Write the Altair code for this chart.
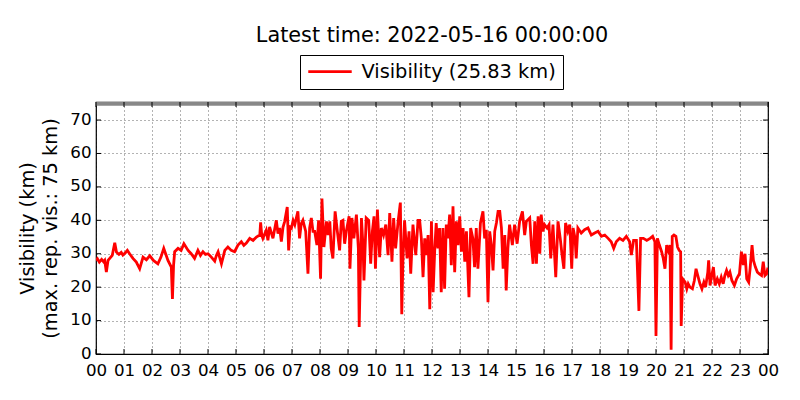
import altair as alt
import pandas as pd

# ---- data (hours since 00:00, visibility km) ----
hours_a = [0.0, 0.05, 0.12, 0.2, 0.27, 0.31, 0.37, 0.43, 0.49, 0.58, 0.67, 0.73, 0.82, 0.9, 0.96,
           1.05, 1.12, 1.2, 1.32, 1.44, 1.56, 1.68, 1.8, 1.92, 2.05, 2.21, 2.32, 2.42, 2.57, 2.69,
           2.73, 2.77, 2.81, 2.93, 3.04, 3.14, 3.29, 3.4, 3.52, 3.64, 3.73, 3.82, 3.91]
vis_a = [28, 28.5, 27.5, 28.3, 27.6, 28, 24.5, 28, 28.6, 29.5, 33.3, 30.5, 29.8, 30.4, 29.6,
         30.3, 31, 30, 28.6, 27.5, 25.5, 29, 28.2, 29.4, 28, 27, 29, 31.6, 28, 26,
         16.5, 26.5, 30.6, 31.6, 31, 33, 31, 30, 28.6, 31, 29.5, 30.6, 29.8]

hours_b = [4.0, 4.12, 4.24, 4.3, 4.36, 4.48, 4.6, 4.71, 4.83, 4.95, 5.07, 5.19, 5.28, 5.37, 5.49,
           5.61, 5.73, 5.85, 5.88, 5.92, 5.96, 6.08, 6.14, 6.2, 6.32, 6.44, 6.5, 6.56, 6.62, 6.68,
           6.74, 6.83, 6.88, 6.93, 6.98, 7.04, 7.1, 7.21, 7.27, 7.33, 7.39, 7.49, 7.57, 7.63, 7.69,
           7.75, 7.81, 7.89, 7.95]
vis_b = [30, 29, 27.8, 29.5, 30.6, 27, 31, 32, 31, 30.6, 32.6, 33.6, 32.5, 33.2, 34.6,
         34, 35, 35.6, 39.4, 35.5, 34.6, 37, 34, 38, 34.6, 40, 36, 37.7, 33.6, 38,
         39.7, 44, 31, 38, 37.7, 40, 38.7, 42.7, 34.6, 39, 40, 36.7, 24, 37.7, 40.7,
         36.7, 36.7, 32.6, 40]

hours_c = [8.02, 8.07, 8.14, 8.23, 8.29, 8.35, 8.40, 8.46, 8.54, 8.62, 8.70, 8.76, 8.82, 8.88,
           8.94, 9.04, 9.07, 9.14, 9.21, 9.30, 9.37, 9.40, 9.48, 9.54, 9.57, 9.65, 9.74, 9.81,
           9.87, 9.93, 9.98, 10.05, 10.13, 10.19, 10.27, 10.35, 10.43, 10.49, 10.57, 10.63,
           10.70, 10.79, 10.87, 10.92, 10.96, 11.02, 11.11, 11.18, 11.24, 11.32, 11.42, 11.50, 11.56]
vis_c = [22.5, 46.5, 32, 39.7, 35.6, 39.7, 31.6, 28.6, 42.7, 36.7, 31, 39.7, 40, 33,
         36.7, 41.2, 25.5, 40.7, 34.6, 41.7, 31.6, 8.1, 40.7, 31.6, 22, 40.7, 40, 27,
         36.7, 41.2, 25.5, 43.2, 29, 37.7, 35.6, 38.7, 29.6, 42.2, 27.6, 40.7,
         31.6, 39.7, 45.3, 11.9, 27.6, 40, 28.6, 36.7, 24, 38.7, 29.6, 40, 40]

hours_d = [11.62, 11.68, 11.74, 11.80, 11.86, 11.92, 11.98, 12.04, 12.10, 12.15, 12.21, 12.27,
           12.33, 12.39, 12.45, 12.51, 12.57, 12.63, 12.69, 12.75, 12.81, 12.87, 12.93, 12.99,
           13.05, 13.11, 13.17, 13.23, 13.32, 13.38, 13.46, 13.52, 13.58, 13.64, 13.73, 13.82,
           13.88, 13.94, 14.0, 14.06, 14.12, 14.18, 14.24, 14.30, 14.36, 14.42, 14.48, 14.54,
           14.60, 14.65, 14.71, 14.77, 14.87, 14.95, 15.04, 15.13, 15.23, 15.31, 15.37]
vis_d = [34.6, 23, 34.6, 29.6, 35.6, 13.4, 39.7, 18.5, 31.6, 39.2, 31.6, 37.7,
         18.5, 37.7, 19.5, 38.7, 34.6, 41.7, 26.6, 44.2, 24.5, 39.7, 32.6, 41.2,
         30.6, 37.7, 27.6, 36.7, 17, 37.7, 34.6, 26, 37.7, 25.5, 39.2, 42.7,
         34.6, 37.2, 15.5, 36.7, 32.6, 25, 36.7, 39.2, 42.7, 42.7, 37.7, 25.5,
         35.6, 19, 31.6, 38.7, 32.6, 38.7, 33, 39.7, 42.7, 35.6, 39.7]

hours_e = [15.49, 15.55, 15.61, 15.67, 15.73, 15.79, 15.85, 15.90, 15.96, 16.02, 16.11, 16.18,
           16.24, 16.32, 16.42, 16.50, 16.58, 16.64, 16.71, 16.77, 16.85, 16.92, 16.99, 17.04,
           17.11, 17.15, 17.21, 17.33, 17.45, 17.57, 17.69, 17.81, 17.93, 18.05, 18.17, 18.29,
           18.40, 18.49, 18.58, 18.70, 18.82, 18.94, 19.06, 19.12, 19.20, 19.30, 19.39, 19.45,
           19.55, 19.67, 19.79, 19.88, 19.96]
vis_e = [40.7, 32.6, 27, 39.7, 27, 41.2, 30, 41.7, 36.7, 38.7, 37.7, 38.7,
         28.6, 38.7, 23, 39.7, 34.6, 30, 25.5, 39.2, 36.7, 38.7, 25.5, 37.7,
         34.6, 28.6, 37.7, 36.2, 37.2, 37.7, 35.6, 36.2, 36.7, 35.2, 35.6, 34.6,
         33.6, 31.6, 33.6, 34.6, 34, 35.2, 33.6, 29.6, 34, 34, 12.9, 34.6,
         34.6, 34, 34.6, 35.2, 33.6]

hours_f = [20.0, 20.05, 20.12, 20.20, 20.26, 20.32, 20.38, 20.44, 20.50, 20.54, 20.58, 20.64,
           20.71, 20.77, 20.83, 20.88, 20.90, 20.95, 21.04, 21.10, 21.15, 21.21, 21.30, 21.37,
           21.43, 21.49, 21.57, 21.64, 21.71, 21.77, 21.85, 21.88, 21.93, 21.99, 22.05, 22.11,
           22.19, 22.26, 22.33, 22.40, 22.46, 22.52, 22.58, 22.64, 22.71, 22.80, 22.88, 22.98,
           23.05, 23.12, 23.18, 23.24, 23.31, 23.36, 23.43, 23.48, 23.55, 23.62, 23.69, 23.77,
           23.83, 23.89, 23.95, 24.0]
vis_f = [5.4, 34.6, 32.6, 30.6, 28.6, 25.5, 32.6, 31, 32.6, 1.3, 35.2, 35.6,
         35.2, 32, 31, 30.6, 8.4, 22.5, 21.5, 19.5, 21, 20, 19.5, 22,
         25.5, 23.5, 21, 19.5, 21.5, 20, 24.5, 28, 20.5, 23.5, 26, 20.5,
         22.5, 21, 23, 21, 23.5, 25, 23.5, 24.5, 22, 20.5, 22.5, 24,
         30.6, 26.6, 30, 22.5, 21.5, 25.5, 32.6, 28, 26, 24.5, 24, 23.5,
         27.6, 23.5, 24, 25.83]

x_ticks = list(range(25))
y_ticks = [0, 10, 20, 30, 40, 50, 60, 70]
max_rep_vis = [75]
series_name = "Visibility (25.83 km)"
title_text = "Latest time: 2022-05-16 00:00:00"

hours = hours_a + hours_b + hours_c + hours_d + hours_e + hours_f
vis = vis_a + vis_b + vis_c + vis_d + vis_e + vis_f
df = pd.DataFrame({"hour": hours, "vis": vis, "series": series_name})

W, H = 672, 252
xs = alt.Scale(domain=[0, 24], nice=False, zero=False)
ys = alt.Scale(domain=[0, 75.4], nice=False, zero=True)

grid_kw = dict(grid=True, gridColor="black", gridDash=[1, 3], gridWidth=0.8, gridOpacity=0.75,
               ticks=False, domain=False, labelColor="black", labelFontSize=16.7,
               labelOverlap=False)

x_axis = alt.Axis(values=x_ticks, tickCount=25, title=None, labelPadding=8, labelFlush=False,
                  labelExpr="datum.value == 24 ? '00' : (datum.value < 10 ? '0' + datum.value : '' + datum.value)",
                  **grid_kw)
y_axis = alt.Axis(values=y_ticks, tickCount=8, title=["Visibility (km)", "(max. rep. vis.: 75 km)"],
                  titleFontSize=19.4, titleFontWeight="normal", titleColor="black",
                  titleLineHeight=23, titlePadding=9, labelPadding=5, labelOffset=-1, **grid_kw)

legend = alt.Legend(title=None, orient="none", legendX=204, legendY=-47,
                    symbolType="M-1,0H7", symbolSize=118, symbolStrokeWidth=2.8, symbolOffset=-3,
                    labelFontSize=19.4, labelColor="black", labelOffset=38, labelLimit=400,
                    padding=7, strokeColor="black", fillColor="white", cornerRadius=0)

X = alt.X("hour:Q", scale=xs, axis=x_axis)
Y = alt.Y("vis:Q", scale=ys, axis=y_axis)

line = alt.Chart(df).mark_line(strokeWidth=2.8, clip=True).encode(
    x=X, y=Y,
    color=alt.Color("series:N", scale=alt.Scale(range=["#ff0000"]), legend=legend),
)

max_line = alt.Chart(pd.DataFrame({"vis": max_rep_vis})).mark_rule(
    color="#888888", strokeWidth=5, clip=True).encode(y=Y)

xt = pd.DataFrame({"hour": x_ticks})
yt = pd.DataFrame({"vis": y_ticks})
tick_bottom = alt.Chart(xt).mark_rule(color="black", strokeWidth=1).encode(
    x=X, y=alt.value(H), y2=alt.value(H - 5))
tick_top = alt.Chart(xt).mark_rule(color="black", strokeWidth=1).encode(
    x=X, y=alt.value(0), y2=alt.value(5))
tick_left = alt.Chart(yt).mark_rule(color="black", strokeWidth=1).encode(
    y=Y, x=alt.value(0), x2=alt.value(5))
tick_right = alt.Chart(yt).mark_rule(color="black", strokeWidth=1).encode(
    y=Y, x=alt.value(W), x2=alt.value(W - 5))

chart = alt.layer(line, max_line, tick_bottom, tick_top, tick_left, tick_right).properties(
    width=W, height=H,
    title=alt.TitleParams(title_text, fontSize=20.8, fontWeight="normal", color="black",
                          anchor="middle", frame="group", offset=8),
    autosize=alt.AutoSizeParams(type="none"),
    padding={"left": 88, "top": 94, "right": 24, "bottom": 38},
).configure(font="DejaVu Sans").configure_view(stroke="black", strokeWidth=1.2)

chart.save("out.html", embed_options={"renderer": "svg", "actions": False})
